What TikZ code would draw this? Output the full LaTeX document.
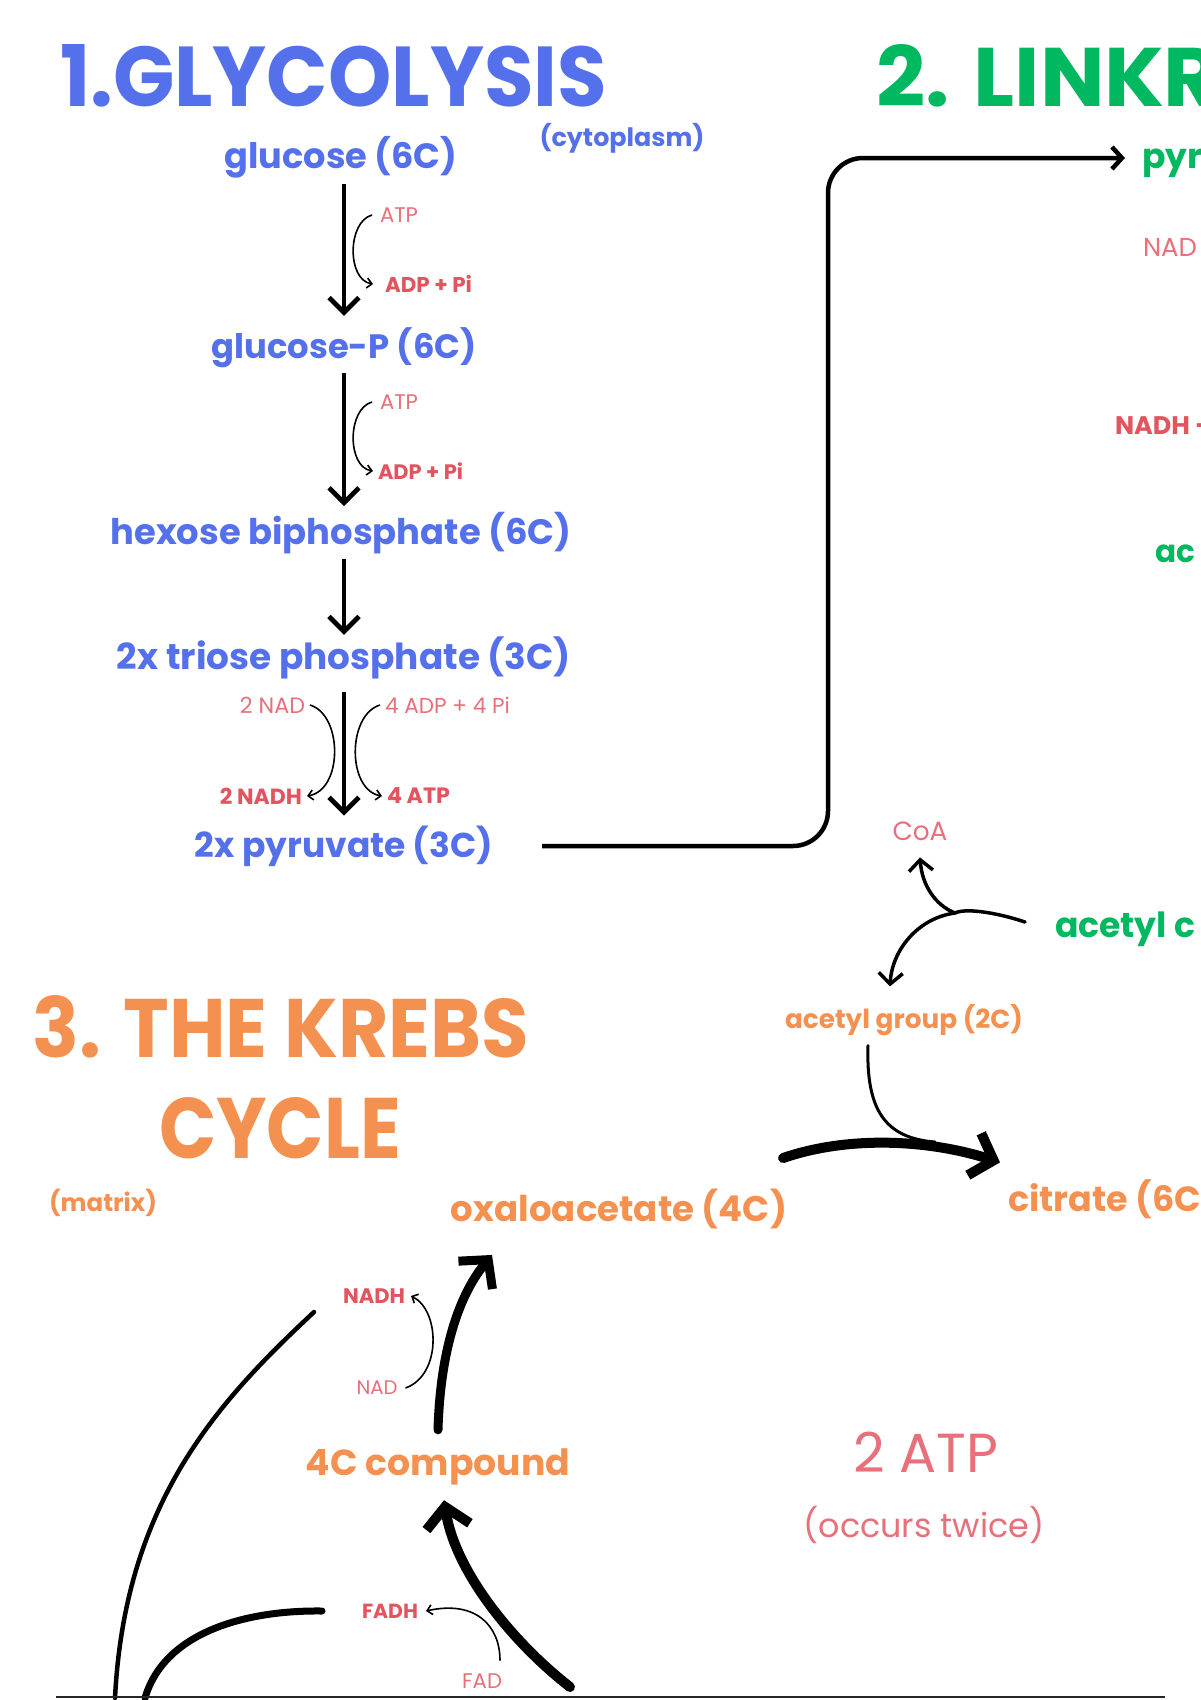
\documentclass[tikz,border=0pt]{standalone}
\usepackage{fontspec}
\usepackage{graphicx}
\usetikzlibrary{arrows.meta}
\newfontfamily\pop{Poppins}
\newlength\mytw
\newlength\myth
\newcommand\fitxy[4]{\settowidth\mytw{#3}\settoheight\myth{#3}\pgfmathsetmacro\myfx{#1/\mytw}\pgfmathsetmacro\myfy{#2/\myth}\scalebox{\myfx}[\myfy]{#4}}
\newcommand\fitw[3]{\settowidth\mytw{#2}\pgfmathsetmacro\myfx{#1/\mytw}\scalebox{\myfx}{#3}}
\newcommand\bb{\pop\bfseries\fontsize{20}{24}\selectfont}
\newcommand\rr{\pop\fontsize{20}{24}\selectfont}
\newcommand\rw[2]{\resizebox{#1pt}{!}{#2}}
\definecolor{gblue}{RGB}{84,112,235}
\definecolor{lgreen}{RGB}{0,184,96}
\definecolor{korange}{RGB}{245,145,80}
\definecolor{rbold}{RGB}{226,84,94}
\definecolor{rlight}{RGB}{232,112,122}
\tikzset{
  lbl/.style={inner sep=0pt, outer sep=0pt},
  bluet/.style={lbl, text=gblue},
  greent/.style={lbl, text=lgreen},
  oranget/.style={lbl, text=korange},
  redb/.style={lbl, text=rbold},
  redl/.style={lbl, text=rlight},
  mainarr/.style={line width=4.8pt, -{Straight Barb[length=15pt,width=30pt]}},
  linkarr/.style={line width=4.5pt, -{Straight Barb[length=10pt,width=22pt]}},
  thinarr/.style={line width=1.6pt, -{Straight Barb[length=5pt,width=10pt]}},
  medarr/.style={line width=3.5pt, line cap=round, -{Straight Barb[length=11pt,width=24pt]}},
  thickarr/.style={line width=10pt, line cap=round, -{Straight Barb[length=20pt,width=44pt]}},
  stroke/.style={line cap=round}
}
\begin{document}
\begin{tikzpicture}[x=1pt,y=-1pt]
\useasboundingbox (0,0) rectangle (1200,1700);
\fill[white] (0,0) rectangle (1200,1700);
\clip (0,0) rectangle (1200,1700);

% titles
\node[bluet, anchor=base west] (t1) at (60,106) {\fitxy{547}{62}{\bb 1.GLYCOLYSIS}{\bb 1.GLYCOLYSIS}};
\node[greent, anchor=base west] (t2) at (876,106) {\fitxy{289}{62}{\bb 2. LINK}{\bb 2. LINK\kern-0.4pt R}};
\node[oranget, anchor=base west] (t3a) at (33,1057) {\fitxy{496}{62}{\bb 3. THE KREBS}{\bb 3. THE KREBS}};
\node[oranget, anchor=base west] (t3b) at (159,1158) {\fitxy{242}{61}{\bb CYCLE}{\bb CYCLE}};

% glycolysis
\node[bluet] (gl) at (341,157) {\rw{233}{\bb glucose (6C)}};
\node[bluet] (cyto) at (622,138) {\rw{165}{\bb (cytoplasm)}};
\node[bluet] (glp) at (344,348) {\rw{265}{\bb glucose-P (6C)}};
\node[bluet] (hbp) at (341,533) {\rw{461}{\bb hexose biphosphate (6C)}};
\node[bluet] (tp) at (344,658) {\rw{454}{\bb 2x triose phosphate (3C)}};
\node[bluet] (pyr2) at (344,846) {\rw{298}{\bb 2x pyruvate (3C)}};

\node[redl, anchor=west] (atpA) at (380,215) {\rw{38}{\rr ATP}};
\node[redb, anchor=west] (adpA) at (385,284) {\rw{87}{\bb ADP + Pi}};
\node[redl, anchor=west] (atpB) at (380,402) {\rw{38}{\rr ATP}};
\node[redb, anchor=west] (adpB) at (378,471) {\rw{85}{\bb ADP + Pi}};
\node[redl, anchor=east] (nad2) at (305,705) {\rw{65}{\rr 2 NAD}};
\node[redl, anchor=west] (adp4) at (385,705) {\rw{125}{\rr 4 ADP + 4 Pi}};
\node[redb, anchor=east] (nadh2) at (302,796) {\rw{82}{\bb 2 NADH}};
\node[redb, anchor=west] (atp4) at (387,796) {\rw{63}{\bb 4 ATP}};

\coordinate (ax) at (344,0);
\draw[mainarr, shorten <=6pt, shorten >=12pt] (gl.south -| ax) -- (glp.north -| ax);
\draw[mainarr, shorten <=5pt, shorten >=6pt] (glp.south -| ax) -- (hbp.north -| ax);
\draw[mainarr, shorten <=5pt, shorten >=2pt] (hbp.south -| ax) -- (tp.north -| ax);
\draw[mainarr, shorten <=13pt, shorten >=10pt] (tp.south -| ax) -- (pyr2.north -| ax);

\draw[thinarr] ([xshift=-8pt]atpA.west) .. controls (347,222) and (347,280) .. ([xshift=-12pt]adpA.west);
\draw[thinarr] ([xshift=-8pt]atpB.west) .. controls (347,409) and (347,467) .. ([xshift=-5pt]adpB.west);
\draw[thinarr] ([xshift=5pt]nad2.east) .. controls (343,715) and (343,790) .. ([xshift=5pt]nadh2.east);
\draw[thinarr] ([xshift=-5pt]adp4.west) .. controls (347,715) and (347,790) .. ([xshift=-5pt]atp4.west);

% link reaction
\node[greent, anchor=west] (pyrL) at (1142,163) {\fitw{298}{\bb 2x pyruvate (3C)}{\bb pyr}};
\node[redl, anchor=west] (nadL) at (1143,247) {\rw{54}{\rr NAD}};
\node[redb, anchor=west] (nadhL) at (1115,426) {\fitw{75}{\bb NADH}{\bb NADH +}};
\node[greent, anchor=west] (acL) at (1155,554) {\rw{40}{\bb ac}};

\coordinate (lnkx) at (828,500);
\coordinate (pyrtip) at (1125,158);
\draw[linkarr, rounded corners=35pt, shorten <=49pt] (pyr2.east) -| (lnkx) |- (pyrtip);

% acetyl coA split
\node[greent, anchor=west] (acoa) at (1055,929) {\fitw{112}{\bb acetyl}{\bb acetyl c}};
\node[redl] (coa) at (920,831) {\rw{55}{\rr CoA}};
\node[oranget] (acg) at (904,1020) {\rw{238}{\bb acetyl group (2C)}};
\coordinate (split) at (955,913);
\draw[line width=3.5pt, stroke] ([shift={(-30pt,7pt)}]acoa.west) .. controls (995,912) and (965,908) .. (split);
\draw[medarr] (split) .. controls (935,905) and (922,885) .. ([yshift=-17pt]coa.south);
\draw[medarr] (split) .. controls (918,918) and (892,950) .. ([shift={(-14pt,18pt)}]acg.north);

% krebs
\node[oranget] (matrix) at (103,1203) {\rw{108}{\bb (matrix)}};
\node[oranget] (oaa) at (619,1209) {\rw{336}{\bb oxaloacetate (4C)}};
\node[oranget, anchor=west] (cit) at (1008,1199) {\fitw{120}{\bb citrate}{\bb citrate (6C}};
\coordinate (merge) at (935,1142);
\draw[line width=3pt, stroke] ([shift={(-36pt,-10pt)}]acg.south) .. controls (866,1110) and (885,1138) .. (merge);
\draw[thickarr] ([shift={(-4pt,31pt)}]oaa.north east) .. controls (850,1135) and (930,1140) .. ([shift={(-8pt,17pt)}]cit.north west);

\node[redb] (nadhK) at (374,1296) {\rw{62}{\bb NADH}};
\node[redl] (nadK) at (377,1388) {\rw{41}{\rr NAD}};
\node[oranget] (c4) at (438,1467) {\rw{264}{\bb 4C compound}};
\node[redl] (atp2) at (926,1452) {\rw{145}{\rr 2 ATP}};
\node[redl] (twice) at (924,1525) {\rw{241}{\rr (occurs twice)}};
\node[redb] (fadh) at (390,1611) {\rw{56}{\bb FADH}};
\node[redl] (fad) at (482,1681) {\rw{40}{\rr FAD}};

\draw[thickarr, line width=9pt] ([yshift=19pt]c4.north) .. controls (440,1360) and (455,1300) .. ([shift={(41pt,-26pt)}]oaa.south west);
\draw[thinarr] ([xshift=8pt]nadK.east) .. controls (442,1375) and (440,1310) .. ([xshift=6pt]nadhK.east);

\coordinate (botA) at (115,1698);
\coordinate (botB) at (145,1698);
\coordinate (botC) at (570,1687);
\draw[line width=4.5pt, stroke] (botA) .. controls (125,1500) and (220,1400) .. ([shift={(-29pt,-16pt)}]nadhK.west);
\draw[line width=7pt, stroke] (botB) .. controls (165,1630) and (250,1610) .. ([xshift=-40pt]fadh.west);
\draw[thickarr] (botC) .. controls (510,1640) and (455,1570) .. ([shift={(6pt,-15pt)}]c4.south);
\draw[thinarr] ([shift={(-2pt,13pt)}]fad.north east) .. controls (500,1625) and (475,1600) .. ([xshift=8pt]fadh.east);

\draw[line width=2pt, black!85] (56,1697) -- (1165,1697);
\end{tikzpicture}
\end{document}
